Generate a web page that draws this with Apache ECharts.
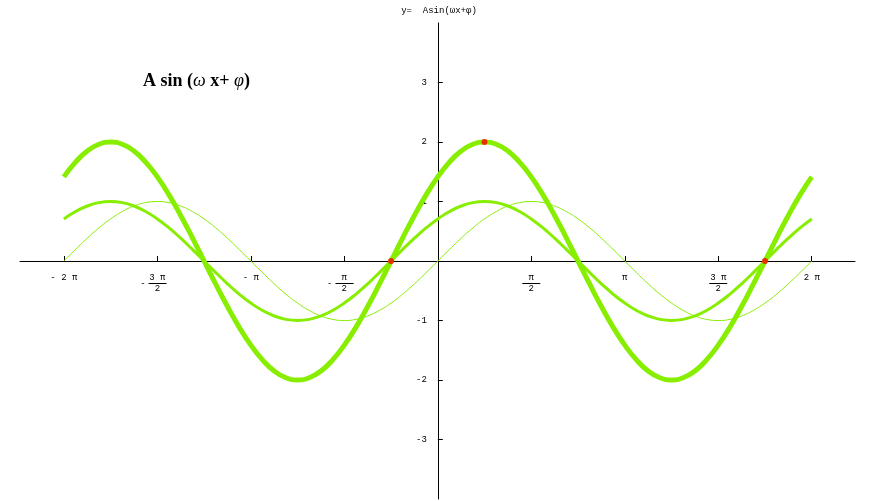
<!DOCTYPE html>
<html>
<head>
<meta charset="utf-8">
<script src="https://cdn.jsdelivr.net/npm/echarts@6/dist/echarts.min.js"></script>
<style>html,body{margin:0;padding:0;background:#fff}#c{width:877px;height:501px}</style>
</head>
<body>
<div id="c"></div>
<script>
const xs = [-6.283,-6.087,-5.890,-5.694,-5.498,-5.301,-5.105,-4.909,-4.712,-4.516,-4.320,-4.123,-3.927,-3.731,-3.534,-3.338,-3.142,-2.945,-2.749,-2.553,-2.356,-2.160,-1.963,-1.767,-1.571,-1.374,-1.178,-0.982,-0.785,-0.589,-0.393,-0.196,0,0.196,0.393,0.589,0.785,0.982,1.178,1.374,1.571,1.767,1.963,2.160,2.356,2.553,2.749,2.945,3.142,3.338,3.534,3.731,3.927,4.123,4.320,4.516,4.712,4.909,5.105,5.301,5.498,5.694,5.890,6.087,6.283];
const thinY = [0,0.195,0.383,0.556,0.707,0.831,0.924,0.981,1,0.981,0.924,0.831,0.707,0.556,0.383,0.195,0,-0.195,-0.383,-0.556,-0.707,-0.831,-0.924,-0.981,-1,-0.981,-0.924,-0.831,-0.707,-0.556,-0.383,-0.195,0,0.195,0.383,0.556,0.707,0.831,0.924,0.981,1,0.981,0.924,0.831,0.707,0.556,0.383,0.195,0,-0.195,-0.383,-0.556,-0.707,-0.831,-0.924,-0.981,-1,-0.981,-0.924,-0.831,-0.707,-0.556,-0.383,-0.195,0];
const mediumY = [0.707,0.831,0.924,0.981,1,0.981,0.924,0.831,0.707,0.556,0.383,0.195,0,-0.195,-0.383,-0.556,-0.707,-0.831,-0.924,-0.981,-1,-0.981,-0.924,-0.831,-0.707,-0.556,-0.383,-0.195,0,0.195,0.383,0.556,0.707,0.831,0.924,0.981,1,0.981,0.924,0.831,0.707,0.556,0.383,0.195,0,-0.195,-0.383,-0.556,-0.707,-0.831,-0.924,-0.981,-1,-0.981,-0.924,-0.831,-0.707,-0.556,-0.383,-0.195,0,0.195,0.383,0.556,0.707];
const thickY = [1.414,1.662,1.848,1.962,2,1.962,1.848,1.662,1.414,1.111,0.765,0.390,0,-0.390,-0.765,-1.111,-1.414,-1.662,-1.848,-1.962,-2,-1.962,-1.848,-1.662,-1.414,-1.111,-0.765,-0.390,0,0.390,0.765,1.111,1.414,1.662,1.848,1.962,2,1.962,1.848,1.662,1.414,1.111,0.765,0.390,0,-0.390,-0.765,-1.111,-1.414,-1.662,-1.848,-1.962,-2,-1.962,-1.848,-1.662,-1.414,-1.111,-0.765,-0.390,0,0.390,0.765,1.111,1.414];
const redX = [-0.785,0.785,5.498];
const redY = [0,2,0];
const xTickVals = [-6.2832,-4.7124,-3.1416,-1.5708,1.5708,3.1416,4.7124,6.2832];
const xTickNum = ['2 π','3 π','π','π','π','π','3 π','2 π'];
const xTickDen = ['','2','','2','2','','2',''];
const xTickNeg = [true,true,true,true,false,false,false,false];
const yTickVals = [-3,-2,-1,1,2,3];
const titleText = 'y=  Asin(ωx+φ)';

const zip = (a,b) => a.map((v,i)=>[v,b[i]]);
const GREEN = '#88ee00';
const FONT = 'Liberation Mono';

const W = 877, H = 501;
const G = {left: 20, right: 22, top: 23, bottom: 2};
const X_MIN = -7.02, X_MAX = 7.01, Y_MIN = -4, Y_MAX = 4;
const gw = W - G.left - G.right, gh = H - G.top - G.bottom;
// shift axes so they cross at the origin (layout only)
const yAxisOffset = -gw * (0 - X_MIN) / (X_MAX - X_MIN);
const xAxisOffset = -gh * (0 - Y_MIN) / (Y_MAX - Y_MIN);

function xLabel(v){
  let i = xTickVals.findIndex(t => Math.abs(t - v) < 1e-3);
  if (i < 0) return '';
  const neg = xTickNeg[i];
  if (!xTickDen[i]) return '{num|' + (neg ? '- ' : '') + xTickNum[i] + '}';
  if (neg) return '{num|' + xTickNum[i] + '}\n{minus|-}{bar|}{pad|}\n{den|' + xTickDen[i] + '}';
  return '{num|' + xTickNum[i] + '}\n{bar|}\n{den|' + xTickDen[i] + '}';
}

const chart = echarts.init(document.getElementById('c'));
chart.setOption({
  animation: false,
  backgroundColor: '#fff',
  title: {
    text: titleText, left: 434, top: 1, textAlign: 'center',
    textStyle: {fontFamily: FONT, fontSize: 9, fontWeight: 'normal', color: '#000'}
  },
  graphic: [{
    type: 'text', left: 143, top: 72,
    style: {
      text: '{b|A sin (}{i|ω}{b| x+ }{i|φ}{b|)}',
      rich: {
        b: {fontFamily: 'Liberation Serif', fontSize: 18, fontWeight: 'bold', fill: '#000'},
        i: {fontFamily: 'Liberation Serif', fontSize: 18, fontStyle: 'italic', fill: '#000'}
      }
    }
  }],
  grid: {left: G.left, right: G.right, top: G.top, bottom: G.bottom, containLabel: false, outerBoundsMode: 'none'},
  xAxis: {
    type: 'value', min: X_MIN, max: X_MAX, position: 'bottom', offset: xAxisOffset,
    axisLine: {onZero: false, lineStyle: {color: '#000', width: 1}},
    axisTick: {show: true, inside: true, length: 5, customValues: xTickVals, lineStyle: {color: '#000'}},
    axisLabel: {
      show: true, margin: 11, customValues: xTickVals, formatter: xLabel,
      fontFamily: FONT, fontSize: 9, color: '#000', lineHeight: 10,
      rich: {
        num: {fontFamily: FONT, fontSize: 9, lineHeight: 11, color: '#000'},
        den: {fontFamily: FONT, fontSize: 9, lineHeight: 9, color: '#000'},
        bar: {width: 18, height: 1, backgroundColor: '#000', lineHeight: 1},
        minus: {fontFamily: FONT, fontSize: 9, height: 1, lineHeight: 1, color: '#000', padding: [0,3,0,0]},
        pad: {width: 8, height: 1, lineHeight: 1}
      }
    },
    splitLine: {show: false}
  },
  yAxis: {
    type: 'value', min: Y_MIN, max: Y_MAX, position: 'left', offset: yAxisOffset,
    axisLine: {onZero: false, lineStyle: {color: '#000', width: 1}},
    axisTick: {show: true, inside: true, length: 5, customValues: yTickVals, lineStyle: {color: '#000'}},
    axisLabel: {
      show: true, margin: 11, customValues: yTickVals,
      fontFamily: FONT, fontSize: 9, color: '#000'
    },
    splitLine: {show: false}
  },
  series: [
    {type: 'line', data: zip(xs, thinY), smooth: true, symbol: 'none', lineStyle: {color: GREEN, width: 1}, z: 3},
    {type: 'line', data: zip(xs, mediumY), smooth: true, symbol: 'none', lineStyle: {color: GREEN, width: 3}, z: 4},
    {type: 'line', data: zip(xs, thickY), smooth: true, symbol: 'none', lineStyle: {color: GREEN, width: 5}, z: 5},
    {type: 'scatter', data: zip(redX, redY), symbol: 'circle', symbolSize: 6, itemStyle: {color: '#ff0000'}, z: 6}
  ]
});
</script>
</body>
</html>
